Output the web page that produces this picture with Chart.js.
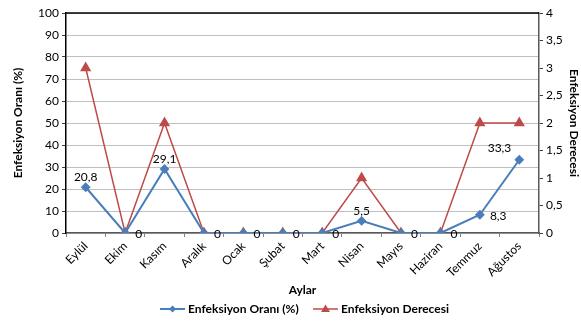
<!DOCTYPE html>
<html>
<head>
<meta charset="utf-8">
<script src="https://cdn.jsdelivr.net/npm/chart.js@4"></script>
<style>
  html, body { margin: 0; padding: 0; background: #fff; }
  #wrap { width: 581px; height: 321px; position: relative; }
</style>
</head>
<body>
<div id="wrap"><canvas id="c" width="581" height="321"></canvas></div>
<script>
// Monthly infection rate (%) and infection degree
const months = ['Eylül', 'Ekim', 'Kasım', 'Aralık', 'Ocak', 'Şubat', 'Mart', 'Nisan', 'Mayıs', 'Haziran', 'Temmuz', 'Ağustos'];
const infectionRate = [20.8, 0, 29.1, 0, 0, 0, 0, 5.5, 0, 0, 8.3, 33.3];
const infectionDegree = [3, 0, 2, 0, 0, 0, 0, 1, 0, 0, 2, 2];
const rateLabels = ['20,8', '0', '29,1', '0', '0', '0', '0', '5,5', '0', '0', '8,3', '33,3'];
const leftTicks = [0, 10, 20, 30, 40, 50, 60, 70, 80, 90, 100];
const rightTicks = [0, 0.5, 1, 1.5, 2, 2.5, 3, 3.5, 4];

const FONT = 'Lato, "Open Sans", sans-serif';
const BLUE = '#4a7ebb';
const RED = '#be4b48';

// where each rate label sits relative to its point
const labelPlacement = ['above', 'right', 'above', 'right', 'right', 'right', 'right', 'above', 'right', 'right', 'right', 'left'];

const valueLabels = {
  id: 'valueLabels',
  afterDatasetsDraw(chart) {
    const ctx = chart.ctx;
    const meta = chart.getDatasetMeta(0);
    ctx.save();
    ctx.font = '12px ' + FONT;
    ctx.fillStyle = '#000';
    meta.data.forEach((pt, i) => {
      const p = labelPlacement[i];
      if (p === 'above') {
        ctx.textAlign = 'center'; ctx.textBaseline = 'bottom';
        ctx.fillText(rateLabels[i], pt.x, pt.y - 4);
      } else if (p === 'right') {
        ctx.textAlign = 'left'; ctx.textBaseline = 'middle';
        ctx.fillText(rateLabels[i], pt.x + 10, pt.y + 1);
      } else {
        ctx.textAlign = 'right'; ctx.textBaseline = 'middle';
        ctx.fillText(rateLabels[i], pt.x - 8, pt.y - 12);
      }
    });
    ctx.restore();
  }
};

// legend drawn as a line with the series marker on it
const lineLegend = {
  id: 'lineLegend',
  afterDraw(chart) {
    const ctx = chart.ctx;
    const y = 309;
    const items = [
      { x: 160, ds: chart.data.datasets[0] },
      { x: 313, ds: chart.data.datasets[1] }
    ];
    ctx.save();
    items.forEach(it => {
      const ds = it.ds;
      ctx.strokeStyle = ds.borderColor;
      ctx.lineWidth = ds.borderWidth;
      ctx.beginPath();
      ctx.moveTo(it.x, y);
      ctx.lineTo(it.x + 25, y);
      ctx.stroke();
      ctx.fillStyle = ds.pointBackgroundColor;
      const cx = it.x + 12.5;
      ctx.beginPath();
      if (ds.pointStyle === 'triangle') {
        ctx.moveTo(cx, y - 4.5); ctx.lineTo(cx + 4.5, y + 3); ctx.lineTo(cx - 4.5, y + 3);
      } else {
        ctx.moveTo(cx, y - 3.5); ctx.lineTo(cx + 3.5, y); ctx.lineTo(cx, y + 3.5); ctx.lineTo(cx - 3.5, y);
      }
      ctx.closePath();
      ctx.fill();
      ctx.fillStyle = '#000';
      ctx.font = 'bold 12px ' + FONT;
      ctx.textAlign = 'left';
      ctx.textBaseline = 'middle';
      ctx.fillText(ds.label, it.x + 28, y);
    });
    ctx.restore();
  }
};

// black frame line along the top of the plot
const topLine = {
  id: 'topLine',
  afterDraw(chart) {
    const a = chart.chartArea, ctx = chart.ctx;
    ctx.save();
    ctx.strokeStyle = '#000';
    ctx.lineWidth = 1.5;
    ctx.beginPath();
    ctx.moveTo(a.left, a.top);
    ctx.lineTo(a.right, a.top);
    ctx.stroke();
    ctx.restore();
  }
};

new Chart(document.getElementById('c'), {
  type: 'line',
  data: {
    labels: months,
    datasets: [
      {
        label: 'Enfeksiyon Oranı (%)',
        data: infectionRate,
        yAxisID: 'y',
        borderColor: BLUE,
        backgroundColor: BLUE,
        pointBackgroundColor: BLUE,
        pointBorderColor: BLUE,
        borderWidth: 2,
        pointStyle: 'rectRot',
        pointRadius: 3.5,
        tension: 0
      },
      {
        label: 'Enfeksiyon Derecesi',
        data: infectionDegree,
        yAxisID: 'y1',
        borderColor: RED,
        backgroundColor: RED,
        pointBackgroundColor: RED,
        pointBorderColor: RED,
        borderWidth: 1.5,
        pointStyle: 'triangle',
        pointRadius: 5,
        tension: 0
      }
    ]
  },
  options: {
    responsive: false,
    animation: false,
    devicePixelRatio: 1,
    layout: { padding: { top: 13, left: 11, right: 0, bottom: 24 } },
    plugins: {
      legend: { display: false },
      tooltip: { enabled: false }
    },
    scales: {
      x: {
        offset: true,
        grid: { display: true, drawOnChartArea: false, offset: true, tickLength: 4, color: '#7f7f7f' },
        border: { display: true, color: '#595959', width: 1.5 },
        ticks: {
          font: { family: FONT, size: 12 }, color: '#000',
          maxRotation: 45, minRotation: 45, padding: 2
        },
        title: { display: true, text: 'Aylar', font: { family: FONT, size: 12, weight: 'bold' }, color: '#000', padding: { top: 0, bottom: 0 } },
        afterFit(s) { s.height = 64; }
      },
      y: {
        position: 'left',
        min: 0, max: 100,
        afterBuildTicks(s) { s.ticks = leftTicks.map(v => ({ value: v })); },
        grid: { color: '#c0c0c0', lineWidth: 1, tickLength: 4, drawTicks: true, tickColor: '#404040' },
        border: { display: true, color: '#000', width: 1.5 },
        ticks: { font: { family: FONT, size: 12 }, color: '#000', padding: 3 },
        title: { display: true, text: 'Enfeksiyon Oranı (%)', font: { family: FONT, size: 12, weight: 'bold' }, color: '#000', padding: { top: 0, bottom: 0 } },
        afterFit(s) { s.width = 55; }
      },
      y1: {
        position: 'right',
        min: 0, max: 4,
        afterBuildTicks(s) { s.ticks = rightTicks.map(v => ({ value: v })); },
        grid: { drawOnChartArea: false, tickLength: 4, tickColor: '#404040' },
        border: { display: true, color: '#595959', width: 1.5 },
        ticks: {
          font: { family: FONT, size: 12 }, color: '#000', padding: 3,
          callback: v => String(v).replace('.', ',')
        },
        title: { display: true, text: 'Enfeksiyon Derecesi', font: { family: FONT, size: 12, weight: 'bold' }, color: '#000', padding: { top: 0, bottom: 0 } },
        afterFit(s) { s.width = 42; }
      }
    }
  },
  plugins: [valueLabels, lineLegend, topLine]
});
</script>
</body>
</html>
